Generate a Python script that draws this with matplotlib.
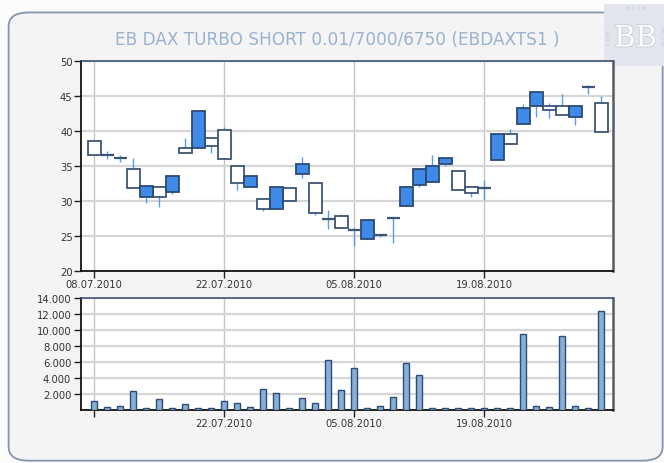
import numpy as np
import matplotlib
matplotlib.use('Agg')
import matplotlib.pyplot as plt
import matplotlib.patheffects as pe
from matplotlib.patches import FancyBboxPatch, Rectangle

# candle data (one entry per trading day)
opens = [36.6, 36.55, 35.8, 31.8, 32.2, 30.5, 33.6, 36.9, 42.8, 37.9,
         36.05, 32.55, 33.6, 28.9, 32.0, 30.0, 35.3, 28.3, 27.4, 26.15,
         26.1, 27.3, 25.1, 27.6, 32.0, 34.5, 35.0, 36.1, 31.5, 31.15,
         31.95, 39.5, 38.1, 43.3, 45.5, 43.0, 42.3, 43.6, 46.3, 39.8]
highs = [38.5, 37.1, 36.6, 36.1, 32.2, 32.05, 33.6, 39.0, 42.8, 39.0,
         40.6, 35.05, 33.6, 30.3, 32.0, 31.8, 36.3, 32.6, 28.7, 28.15,
         26.1, 27.3, 25.2, 27.6, 32.2, 34.5, 36.6, 36.1, 34.3, 32.0,
         33.05, 39.5, 40.25, 43.8, 45.5, 44.05, 45.3, 43.6, 46.5, 45.05]
lows = [36.6, 36.0, 35.5, 31.8, 29.7, 29.1, 31.0, 36.9, 37.6, 36.9,
        36.05, 31.5, 32.05, 28.6, 28.9, 30.0, 33.3, 28.05, 26.05, 26.15,
        23.5, 24.6, 24.9, 24.05, 29.3, 32.0, 32.7, 35.05, 31.5, 30.5,
        30.1, 35.8, 38.1, 41.0, 42.0, 41.8, 42.3, 40.8, 45.3, 39.8]
closes = [38.5, 36.55, 36.1, 34.5, 30.5, 32.0, 31.3, 37.6, 37.6, 39.0,
          40.2, 35.05, 32.05, 30.3, 28.9, 31.8, 33.8, 32.6, 27.4, 27.8,
          25.8, 24.6, 25.1, 27.6, 29.3, 32.3, 32.7, 35.3, 34.3, 32.0,
          31.8, 35.8, 39.5, 41.0, 43.6, 43.6, 43.6, 42.0, 46.3, 44.05]
volumes = [1100, 350, 550, 2420, 230, 1330, 300, 750, 230, 230,
           1100, 875, 375, 2670, 2080, 230, 1460, 875, 6290, 2460,
           5210, 230, 460, 1580, 5875, 4420, 300, 230, 230, 230,
           230, 300, 300, 9500, 540, 375, 9290, 460, 300, 12375]
date_labels = ['08.07.2010', '22.07.2010', '05.08.2010', '19.08.2010']
date_pos = [0, 10, 20, 30]

title = 'EB DAX TURBO SHORT 0.01/7000/6750 (EBDAXTS1 )'

fig = plt.figure(figsize=(6.64, 4.64), dpi=100)
fig.patch.set_facecolor('#fcfcfc')

# rounded panel behind the charts
panel = FancyBboxPatch((0.013, 0.005), 0.985, 0.966, transform=fig.transFigure,
                       boxstyle='round,pad=0,rounding_size=0.03',
                       facecolor='#f4f4f4', edgecolor='#8595ad', lw=1.3, zorder=-5)
fig.patches.append(panel)

fig.text(0.508, 0.913, title, ha='center', va='center', fontsize=12.2,
         color='#9ab2cf')

# logo box in the top right corner
logo = Rectangle((0.91, 0.855), 0.09, 0.135, transform=fig.transFigure,
                 facecolor='#e4e6ef', edgecolor='none', zorder=-1)
fig.patches.append(logo)
fig.text(0.957, 0.915, 'BB', ha='center', va='center', fontsize=21,
         color='white', family='DejaVu Serif', zorder=2,
         path_effects=[pe.withStroke(linewidth=1.5, foreground='#cfd2e0')])
fig.text(0.917, 0.92, 'ICTUM', ha='center', va='center', fontsize=3.5,
         color='#c8cbdc', rotation=90)
fig.text(0.996, 0.92, 'FACTUM', ha='center', va='center', fontsize=3.5,
         color='#c8cbdc', rotation=-90)
fig.text(0.957, 0.982, 'M E U M', ha='center', va='center', fontsize=3.5,
         color='#c8cbdc')

ax = fig.add_axes([0.122, 0.4138, 0.801, 0.4526])
ax2 = fig.add_axes([0.122, 0.1142, 0.801, 0.2414])

x = np.arange(len(opens))
o = np.array(opens)
c = np.array(closes)
h = np.array(highs)
l = np.array(lows)

blue = '#3f8ae6'
dark = '#2c4a76'
hollow_edge = '#3d5575'

# wicks behind the bodies
ax.vlines(x, l, h, color='#5b9ce8', lw=1, zorder=2)

up = c > o
down = c < o
bot = np.minimum(o, c)
hgt = np.abs(c - o)
thin = hgt < 0.35
ax.bar(x[up & ~thin], hgt[up & ~thin], bottom=bot[up & ~thin],
       width=1.0, color='white', edgecolor=hollow_edge, lw=1.3, zorder=3)
ax.bar(x[down & ~thin], hgt[down & ~thin], bottom=bot[down & ~thin],
       width=1.0, color=blue, edgecolor=dark, lw=1.3, zorder=3)
ax.hlines(c[thin], x[thin] - 0.5, x[thin] + 0.5, color='#3d5575', lw=1.6, zorder=3)

ax.set_xlim(-1, 39.9)
ax.set_ylim(20, 50)
ax.set_yticks(np.arange(20, 51, 5))
ax.set_xticks(date_pos)
ax.set_xticklabels(date_labels)

ax2.bar(x, volumes, width=0.5, color='#8aafd5', edgecolor='#2d4c78', lw=1, zorder=3)
ax2.set_xlim(-1, 39.9)
ax2.set_ylim(0, 14000)
ax2.set_yticks(np.arange(2000, 14001, 2000))
ax2.set_yticklabels(['{:,}'.format(v).replace(',', '.') for v in range(2000, 14001, 2000)])
ax2.set_xticks(date_pos)
ax2.set_xticklabels([''] + date_labels[1:])

for a in (ax, ax2):
    a.set_facecolor('white')
    a.grid(axis='y', color='#d6d6d6', lw=1.6, zorder=0)
    a.grid(axis='x', color='#c4c4c4', lw=1, zorder=0)
    a.set_axisbelow(True)
    a.tick_params(axis='both', labelsize=7.2, labelcolor='#333333', length=5,
                  width=1, color='#222222', pad=1)
    a.spines['left'].set_color('#111111')
    a.spines['bottom'].set_color('#111111')
    a.spines['left'].set_linewidth(1.3)
    a.spines['bottom'].set_linewidth(1.3)
    a.spines['top'].set_color('#3e5273')
    a.spines['right'].set_color('#555a63')
    a.spines['top'].set_linewidth(1.2)
    a.spines['right'].set_linewidth(1.8)
ax2.tick_params(axis='y', pad=2)

fig.savefig('out.png', dpi=100, facecolor=fig.get_facecolor())
